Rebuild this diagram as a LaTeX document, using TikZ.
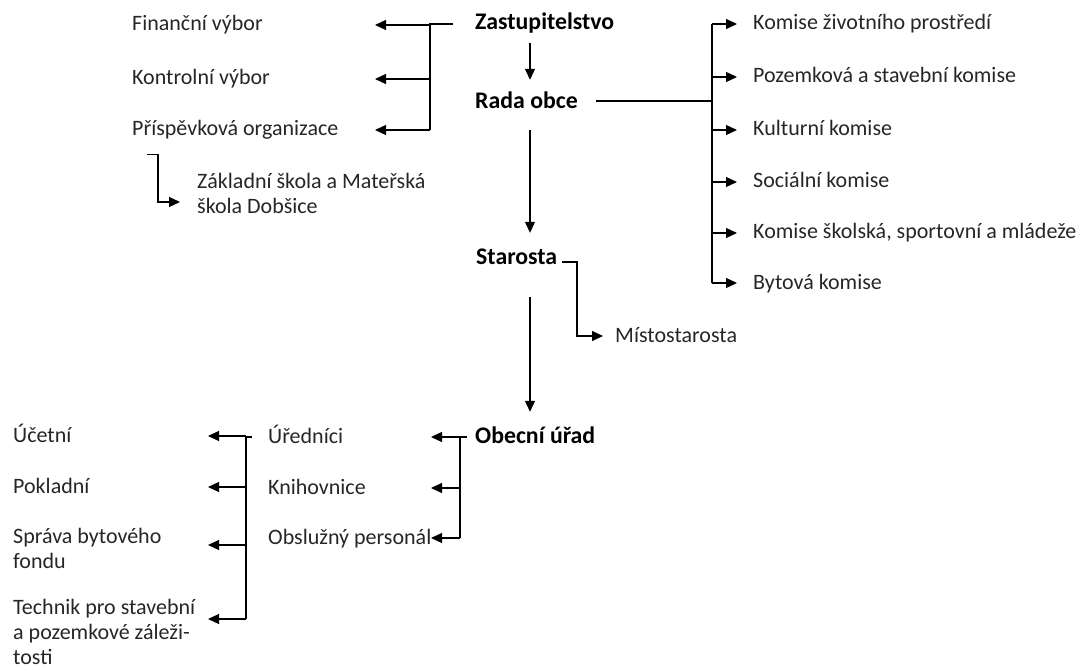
\documentclass[tikz,border=0pt]{standalone}
\usepackage{fontspec}
\setmainfont{Carlito}
\usetikzlibrary{arrows.meta}

\begin{document}
\begin{tikzpicture}[x=1pt, y=-1pt,
  every node/.style={font=\fontsize{22}{25}\selectfont},
  item/.style={anchor=west, inner sep=0pt, text height=16pt, text depth=4pt, text=black!85},
  multi/.style={anchor=base west, inner sep=0pt, align=left, text=black!85},
  head/.style={item, text=black, font=\fontsize{23.8}{26}\selectfont\bfseries},
  line/.style={line width=1.1pt},
  arr/.style={line, -{Triangle[length=11pt,width=10pt]}}]
  \useasboundingbox (0,0) rectangle (1079,671);
  % main chain
  \node[head] (zast) at (475,24) {Zastupitelstvo};
  \node[head] (rada) at (475,103) {Rada obce};
  \node[head] (star) at (476,259) {Starosta};
  \node[head] (obec) at (475,437) {Obecní úřad};
  \coordinate (spine) at (530,0);
  \draw[arr, shorten <=9pt, shorten >=13pt] (zast.south -| spine) -- (rada.north -| spine);
  \draw[arr, shorten <=17pt, shorten >=16pt] (rada.south -| spine) -- (star.north -| spine);
  \draw[arr, shorten <=28pt, shorten >=15pt] (star.south -| spine) -- (obec.north -| spine);
  % committees of the council
  \node[item] (fin) at (132,25) {Finanční výbor};
  \node[item] (kon) at (132,79) {Kontrolní výbor};
  \node[item] (pri) at (132,130) {Příspěvková organizace};
  \node[multi] (zakl) at (197,214) {Základní škola a Mateřská\\škola Dobšice};
  \coordinate (lfork) at (430,0);
  \coordinate (ltip) at (375,0);
  \draw[line] ([xshift=-22pt]zast.west) -- (zast.west -| lfork) -- (pri -| lfork);
  \foreach \n in {fin,kon,pri}
    \draw[arr] (\n -| lfork) -- (\n -| ltip);
  \coordinate (zbend) at (158,0);
  \draw[arr] ([xshift=15pt,yshift=-14pt]pri.south west) -| ([yshift=12pt]zakl.base west -| zbend)
    -- ([xshift=-17pt,yshift=12pt]zakl.base west);
  % commissions of the board
  \node[item] (k1) at (753,24) {Komise životního prostředí};
  \node[item] (k2) at (753,77) {Pozemková a stavební komise};
  \node[item] (k3) at (753,130) {Kulturní komise};
  \node[item] (k4) at (753,182) {Sociální komise};
  \node[item] (k5) at (753,233) {Komise školská, sportovní a mládeže};
  \node[item] (k6) at (753,283) {Bytová komise};
  \coordinate (rfork) at (712,0);
  \coordinate (rtip) at (737,0);
  \draw[line] ([xshift=18pt,yshift=2pt]rada.east) -- ([yshift=2pt]rada.east -| rfork);
  \draw[line] (k1 -| rfork) -- (k6 -| rfork);
  \foreach \i in {1,...,6}
    \draw[arr] (k\i -| rfork) -- (k\i -| rtip);
  % deputy
  \node[item] (mist) at (615,336) {Místostarosta};
  \coordinate (mbend) at (577,0);
  \draw[arr] ([xshift=5pt,yshift=-3pt]star.east) -| (mist -| mbend) -- ([xshift=-12pt]mist.west);
  % municipal office
  \node[item] (ured) at (268,437) {Úředníci};
  \node[item] (knih) at (268,488) {Knihovnice};
  \node[item] (obsl) at (268,538) {Obslužný personál};
  \coordinate (ofork) at (460,0);
  \coordinate (otip) at (431,0);
  \draw[line] ([xshift=-8pt]obec.west) -- (obec -| ofork) -- (obsl -| ofork);
  \foreach \n in {ured,knih,obsl}
    \draw[arr] (\n -| ofork) -- (\n -| otip);
  % clerks
  \node[item] (ucet) at (13,436) {Účetní};
  \node[item] (pokl) at (13,487) {Pokladní};
  \node[multi] (sprava) at (13,568) {Správa bytového\\fondu};
  \node[multi] (tech) at (13,664) {Technik pro stavební\\a pozemkové záleži-\\tosti};
  \coordinate (ufork) at (246,0);
  \coordinate (utip) at (208,0);
  \draw[line] ([xshift=-16pt]ured.west) -- (ured -| ufork) -- ([yshift=45pt]tech.base -| ufork);
  \foreach \n in {ucet,pokl}
    \draw[arr] (\n -| ufork) -- (\n -| utip);
  \draw[arr] ([yshift=23pt]sprava.base -| ufork) -- ([yshift=23pt]sprava.base -| utip);
  \draw[arr] ([yshift=45pt]tech.base -| ufork) -- ([yshift=45pt]tech.base -| utip);
\end{tikzpicture}
\end{document}
